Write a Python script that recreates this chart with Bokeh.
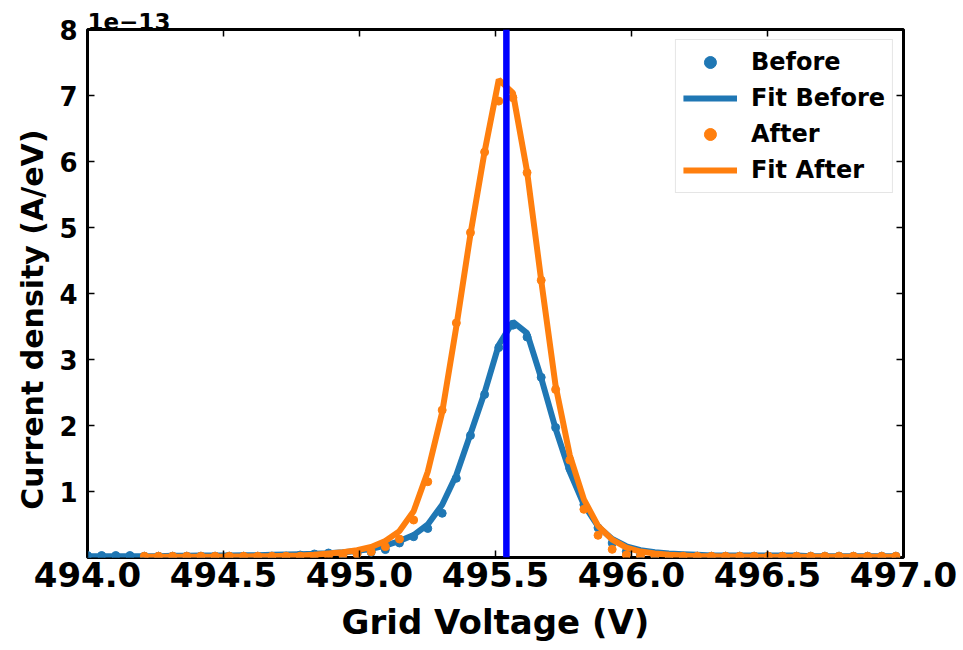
from bokeh.plotting import figure
from bokeh.models import (Range1d, FixedTicker, LinearAxis, Span, Legend, LegendItem,
                          ColumnDataSource, CustomJSTickFormatter)
from bokeh.embed import file_html
from bokeh.resources import INLINE

# ---------------- data (current density in units of 1e-13 A/eV) ----------------
voltage = [494.000, 494.052, 494.104, 494.156, 494.209, 494.261, 494.313, 494.365, 494.417, 494.469,
           494.521, 494.574, 494.626, 494.678, 494.730, 494.782, 494.834, 494.886, 494.939, 494.991,
           495.043, 495.095, 495.147, 495.199, 495.251, 495.304, 495.356, 495.408, 495.460, 495.512,
           495.564, 495.616, 495.668, 495.721, 495.773, 495.825, 495.877, 495.929, 495.981, 496.033,
           496.086, 496.138, 496.190, 496.242, 496.294, 496.346, 496.398, 496.451, 496.503, 496.555,
           496.607, 496.659, 496.711, 496.763, 496.816, 496.868, 496.920, 496.972]

before = [0.03, 0.03, 0.03, 0.03, 0.02, 0.02, 0.02, 0.02, 0.02, 0.02,
          0.02, 0.02, 0.02, 0.02, 0.02, 0.038, 0.053, 0.068, 0.05, 0.06,
          0.08, 0.12, 0.22, 0.315, 0.44, 0.67, 1.20, 1.85, 2.47, 3.18,
          3.52, 3.34, 2.73, 1.97, 1.35, 0.80, 0.45, 0.22, 0.09, 0.04,
          0.02, 0.02, 0.02, 0.02, 0.02, 0.02, 0.02, 0.02, 0.02, 0.02,
          0.02, 0.02, 0.02, 0.02, 0.02, 0.02, 0.02, 0.02]

fit_before = [0.02, 0.02, 0.02, 0.02, 0.02, 0.02, 0.025, 0.025, 0.03, 0.03,
              0.03, 0.035, 0.035, 0.04, 0.045, 0.05, 0.055, 0.065, 0.08, 0.10,
              0.13, 0.18, 0.25, 0.34, 0.50, 0.80, 1.25, 1.87, 2.50, 3.22,
              3.57, 3.40, 2.72, 1.95, 1.30, 0.80, 0.47, 0.28, 0.17, 0.11,
              0.08, 0.06, 0.05, 0.04, 0.03, 0.03, 0.03, 0.03, 0.03, 0.03,
              0.03, 0.02, 0.02, 0.02, 0.02, 0.02, 0.02, 0.02]

voltage_after = voltage[4:]

after = [0.02, 0.02, 0.02, 0.02, 0.02, 0.02, 0.02, 0.02, 0.02, 0.02,
         0.02, 0.02, 0.02, 0.02, 0.03, 0.05, 0.088, 0.164, 0.28, 0.568,
         1.148, 2.233, 3.554, 4.923, 6.143, 6.915, 6.966, 5.831, 4.201, 2.546,
         1.476, 0.730, 0.336, 0.124, 0.038, 0.02, 0.02, 0.02, 0.02, 0.02,
         0.02, 0.02, 0.02, 0.02, 0.02, 0.02, 0.02, 0.02, 0.02, 0.02,
         0.02, 0.02, 0.02, 0.02]

fit_after = [0.01, 0.01, 0.01, 0.01, 0.01, 0.01, 0.015, 0.015, 0.02, 0.02,
             0.025, 0.03, 0.04, 0.06, 0.08, 0.11, 0.16, 0.25, 0.40, 0.70,
             1.30, 2.20, 3.50, 4.90, 6.15, 7.24, 7.04, 5.85, 4.20, 2.60,
             1.55, 0.88, 0.48, 0.27, 0.15, 0.09, 0.06, 0.04, 0.03, 0.02,
             0.02, 0.015, 0.015, 0.01, 0.01, 0.01, 0.01, 0.01, 0.01, 0.01,
             0.01, 0.01, 0.01, 0.01]

peak_voltage = 495.54

x_ticks = [494.0, 494.5, 495.0, 495.5, 496.0, 496.5, 497.0]
y_ticks = [1, 2, 3, 4, 5, 6, 7, 8]
y_exponent_label = "1e\u221213"
x_label = "Grid Voltage (V)"
y_label = "Current density (A/eV)"

BLUE = "#1f77b4"
ORANGE = "#ff7f0e"
FONT = "DejaVu Sans"

p = figure(width=963, height=650, output_backend="svg", toolbar_location=None,
           x_range=Range1d(494.0, 497.0), y_range=Range1d(0, 8),
           min_border_left=87, min_border_right=60, min_border_top=29, min_border_bottom=93)

p.background_fill_color = "white"
p.border_fill_color = "white"
p.xgrid.visible = False
p.ygrid.visible = False
p.outline_line_color = "black"
p.outline_line_width = 3

# exponent text shown as left-aligned title above the frame
p.title.text = y_exponent_label
p.title.align = "left"
p.title.text_font = FONT
p.title.text_font_style = "bold"
p.title.text_font_size = "23px"
p.title.text_color = "black"
p.title.offset = 0
p.title.standoff = 0

src_b = ColumnDataSource(dict(x=voltage, y=before, f=fit_before))
src_a = ColumnDataSource(dict(x=voltage_after, y=after, f=fit_after))

r_b = p.scatter("x", "y", source=src_b, size=8, color=BLUE)
r_fb = p.line("x", "f", source=src_b, line_width=6, color=BLUE)
r_a = p.scatter("x", "y", source=src_a, size=8, color=ORANGE)
r_fa = p.line("x", "f", source=src_a, line_width=6, color=ORANGE)

vline = Span(location=peak_voltage, dimension="height", line_color="#0000ff", line_width=6.5)
p.add_layout(vline)

# axes
xa = p.xaxis[0]
xa.ticker = FixedTicker(ticks=x_ticks)
xa.formatter = CustomJSTickFormatter(code="return tick.toFixed(1);")
ya = p.yaxis[0]
ya.ticker = FixedTicker(ticks=y_ticks)

for ax in (xa, ya):
    ax.axis_line_color = None
    ax.major_tick_in = 7
    ax.major_tick_out = 0
    ax.major_tick_line_width = 1.5
    ax.minor_tick_line_color = None
    ax.major_label_text_font = FONT
    ax.major_label_text_font_style = "bold"
    ax.major_label_text_color = "black"
    ax.axis_label_text_font = FONT
    ax.axis_label_text_font_style = "bold"
    ax.axis_label_text_color = "black"

xa.major_label_text_font_size = "34px"
xa.major_label_standoff = 4
xa.axis_label = x_label
xa.axis_label_text_font_size = "34px"
xa.axis_label_standoff = 12

ya.major_label_text_font_size = "26px"
ya.major_label_standoff = 10
# trailing no-break spaces shift the label slightly downward, as in the reference
ya.axis_label = y_label + "\u00a0" * 5
ya.axis_label_text_font_size = "30px"
ya.axis_label_standoff = 6

blank = CustomJSTickFormatter(code="return '';")
top = LinearAxis(ticker=FixedTicker(ticks=x_ticks), formatter=blank, axis_line_color=None,
                 major_tick_in=7, major_tick_out=6, major_tick_line_width=1.5,
                 major_tick_line_color="black", minor_tick_line_color=None,
                 major_label_standoff=0)
right = LinearAxis(ticker=FixedTicker(ticks=y_ticks), formatter=blank, axis_line_color=None,
                   major_tick_in=7, major_tick_out=0, major_tick_line_width=1.5,
                   minor_tick_line_color=None, major_label_standoff=0)
p.add_layout(top, "above")
p.add_layout(right, "right")

# hide the outer part of the top ticks by drawing them only inward: outward part is
# covered with white via a zero-alpha trick is not needed; keep top ticks inward only
top.major_tick_out = 0
top.major_label_standoff = 7

legend = Legend(items=[LegendItem(label="Before", renderers=[r_b]),
                       LegendItem(label="Fit Before", renderers=[r_fb]),
                       LegendItem(label="After", renderers=[r_a]),
                       LegendItem(label="Fit After", renderers=[r_fa])],
                location="top_right")
legend.margin = 10
legend.padding = 7
legend.spacing = 6
legend.glyph_width = 54
legend.glyph_height = 30
legend.label_height = 30
legend.label_standoff = 14
legend.label_text_font = FONT
legend.label_text_font_style = "bold"
legend.label_text_font_size = "24px"
legend.label_text_color = "black"
legend.border_line_color = "#cccccc"
legend.border_line_width = 1.5
legend.background_fill_alpha = 0.8
p.add_layout(legend)

open("out.html", "w").write(file_html(p, INLINE))
